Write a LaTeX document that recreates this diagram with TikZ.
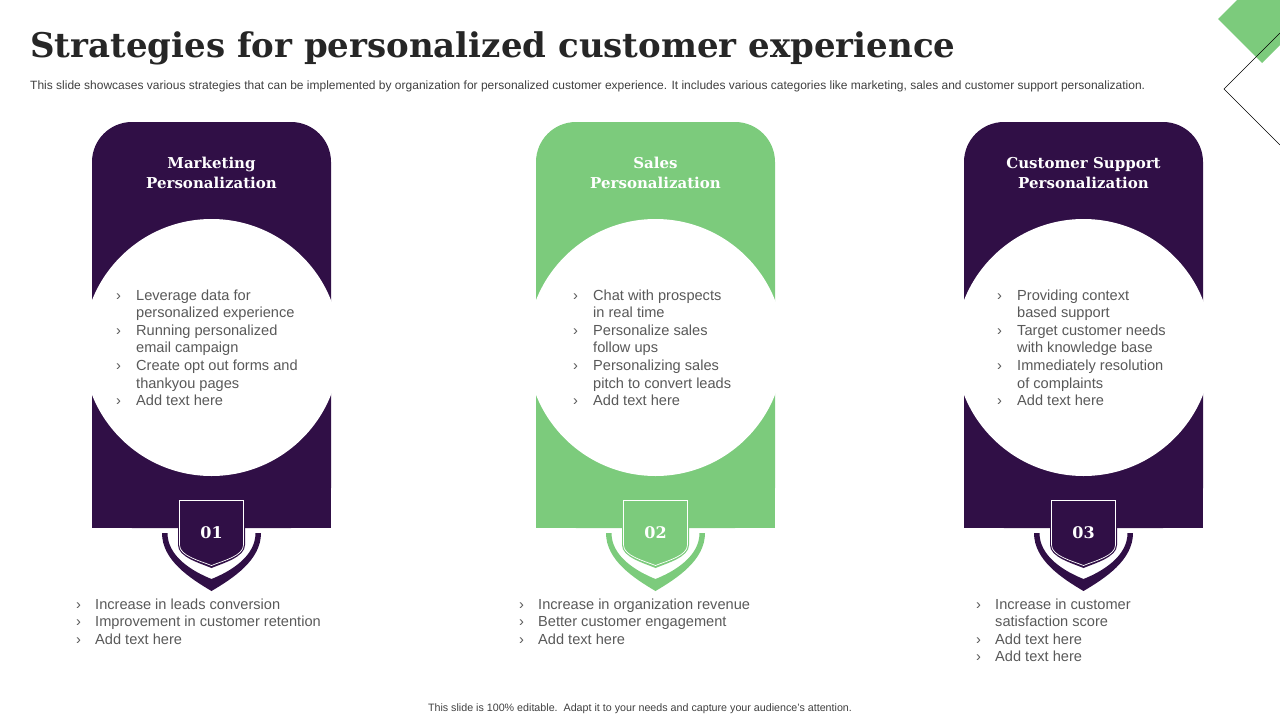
\documentclass[tikz,border=0pt]{standalone}
\usepackage{fontspec}
\setmainfont{Liberation Sans}
\newfontfamily\headfont{DejaVu Serif}
\usetikzlibrary{positioning}

\definecolor{deep}{RGB}{48,15,70}
\definecolor{leaf}{RGB}{124,203,124}
\definecolor{ink}{RGB}{89,89,89}
\definecolor{note}{RGB}{64,64,64}

\begin{document}
\begin{tikzpicture}
[x=1pt,y=-1pt,
 every node/.style={inner sep=0pt},
 head/.style={text=white,align=center,font=\headfont\bfseries\fontsize{15}{20}\selectfont},
 badgenum/.style={text=white,font=\headfont\bfseries\fontsize{16}{18}\selectfont},
 list/.style={anchor=base west,text=ink,font=\fontsize{14.6}{17.6}\selectfont}]
\useasboundingbox (0,0) rectangle (1280,720);

% corner decoration
\fill[leaf] (1237,0) -- (1218,19) -- (1262,63) -- (1280,45) -- (1280,0) -- cycle;
\draw[black,line width=0.6pt] (1280,33) -- (1224,89) -- (1280,145);

% title and subtitle
\node[anchor=base west,text=black!85,font=\headfont\bfseries\fontsize{34}{40}\selectfont] (title) at (30,57)
{Strategies for personalized customer experience};
\node[anchor=base west,text=note,font=\fontsize{12}{14}\selectfont] (sub) at (30,89)
{This slide showcases various strategies that can be implemented by organization for personalized customer experience. It includes various categories like marketing, sales and customer support personalization.};

% cards
\foreach \cx/\col/\name/\num in {211.5/deep/{Marketing\\Personalization}/01,
  655.5/leaf/{Sales\\Personalization}/02,
  1083.5/deep/{Customer Support\\Personalization}/03}
{
  \fill[\col,rounded corners=40pt] (\cx-119.5,122) rectangle (\cx+119.5,528);
  \fill[\col] (\cx-119.5,300) rectangle (\cx+119.5,528);
  \fill[white] (\cx,347.5) circle (128.5);
  \node[head] (head\num) at (\cx,173) {\name};
  % badge
  \fill[\col] (\cx-33.5,500) -- (\cx-33.5,545) .. controls (\cx-33.5,557) and (\cx-12,563) .. (\cx,568)
    .. controls (\cx+12,563) and (\cx+33.5,557) .. (\cx+33.5,545) -- (\cx+33.5,500) -- cycle;
  \draw[white,line width=0.7pt] (\cx-32,500.5) -- (\cx-32,545) .. controls (\cx-32,556) and (\cx-11,561) .. (\cx,565.5)
    .. controls (\cx+11,561) and (\cx+32,556) .. (\cx+32,545) -- (\cx+32,500.5) -- cycle;
  \fill[\col] (\cx-49.5,533) .. controls (\cx-49.5,560) and (\cx-22,578) .. (\cx,591)
    .. controls (\cx+22,578) and (\cx+49.5,560) .. (\cx+49.5,533) -- (\cx+44,533)
    .. controls (\cx+44,556) and (\cx+20,571) .. (\cx,579)
    .. controls (\cx-20,571) and (\cx-44,556) .. (\cx-44,533) -- cycle;
  \node[badgenum] (num\num) at (\cx,533) {\num};
}

% lists inside the circles
\node[list] (mid1) at (116,300) {\begin{tabular}[t]{@{}p{20pt}@{}l@{}}
› & Leverage data for\\ & personalized experience\\
› & Running personalized\\ & email campaign\\
› & Create opt out forms and\\ & thankyou pages\\
› & Add text here\end{tabular}};
\node[list] (mid2) at (573,300) {\begin{tabular}[t]{@{}p{20pt}@{}l@{}}
› & Chat with prospects\\ & in real time\\
› & Personalize sales\\ & follow ups\\
› & Personalizing sales\\ & pitch to convert leads\\
› & Add text here\end{tabular}};
\node[list] (mid3) at (997,300) {\begin{tabular}[t]{@{}p{20pt}@{}l@{}}
› & Providing context\\ & based support\\
› & Target customer needs\\ & with knowledge base\\
› & Immediately resolution\\ & of complaints\\
› & Add text here\end{tabular}};

% lists below the badges
\node[list] (low1) at (76,609) {\begin{tabular}[t]{@{}p{19pt}@{}l@{}}
› & Increase in leads conversion\\
› & Improvement in customer retention\\
› & Add text here\end{tabular}};
\node[list] (low2) at (519,609) {\begin{tabular}[t]{@{}p{19pt}@{}l@{}}
› & Increase in organization revenue\\
› & Better customer engagement\\
› & Add text here\end{tabular}};
\node[list] (low3) at (976,609) {\begin{tabular}[t]{@{}p{19pt}@{}l@{}}
› & Increase in customer\\ & satisfaction score\\
› & Add text here\\
› & Add text here\end{tabular}};

% footer
\node[text=note,font=\fontsize{10.7}{12}\selectfont] (foot) at (640,709)
{This slide is 100\% editable.\ \ Adapt it to your needs and capture your audience's attention.};
\end{tikzpicture}
\end{document}
